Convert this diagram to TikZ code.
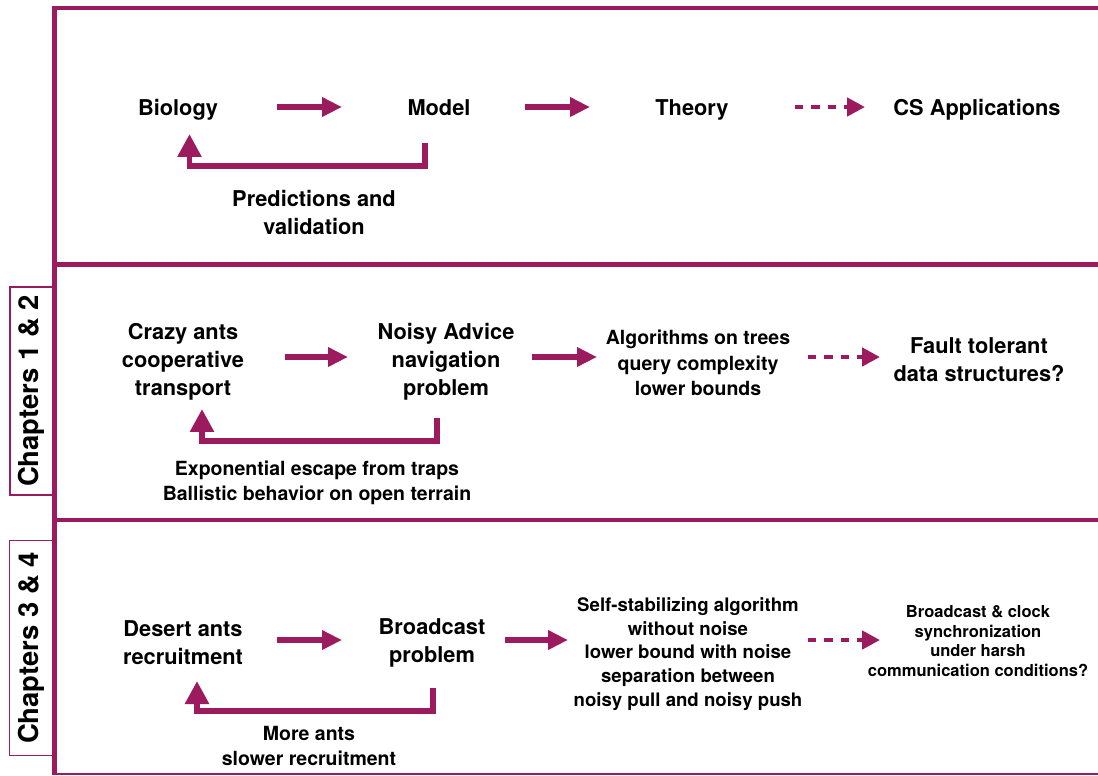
\documentclass[tikz,border=0pt]{standalone}
\usepackage{fontspec}
\setmainfont{TeX Gyre Heros}
\usetikzlibrary{arrows.meta}
\definecolor{plum}{RGB}{156,27,94}
\tikzset{
    % Frame lines
    frame/.style={
        draw=plum,
        line width=2.6pt,
    },
    % Chapter tag on the left
    chapbox/.style={
        draw=plum,
        line width=0.9pt,
        rotate=90,
        minimum width=4.16cm,
        minimum height=0.86cm,
        inner sep=0pt,
        font=\bfseries\fontsize{15.6}{18}\selectfont,
    },
    % Labels
    big/.style={
        align=center,
        font=\bfseries\fontsize{12.4}{15.9}\selectfont,
    },
    mid/.style={
        align=center,
        font=\bfseries\fontsize{11.1}{14.5}\selectfont,
    },
    small/.style={
        align=center,
        font=\bfseries\fontsize{10.6}{13.4}\selectfont,
    },
    tiny/.style={
        align=center,
        font=\bfseries\fontsize{9.4}{11.3}\selectfont,
    },
    % Arrows
    flow/.style={
        draw=plum,
        line width=3.4pt,
        -{Triangle[length=0.4cm,width=0.37cm]},
    },
    maybe/.style={
        draw=plum,
        line width=2.6pt,
        dash pattern=on 0.17cm off 0.16cm,
        -{Triangle[length=0.36cm,width=0.36cm]},
    },
    back/.style={
        draw=plum,
        line width=3.2pt,
        -{Triangle[length=0.46cm,width=0.46cm]},
    },
}

\begin{document}
\begin{tikzpicture}[x=0.02cm,y=-0.02cm]
\useasboundingbox (0,0) rectangle (1098,775);
% Frame
\draw[frame] (54.5,6) -- (54.5,775);
\draw[frame] (54.5,8) -- (1098,8);
\draw[frame] (54.5,264.5) -- (1098,264.5);
\draw[frame] (54.5,520) -- (1098,520);
\draw[draw=plum, line width=1.1pt] (54.5,774) -- (1098,774);
\node[chapbox] (ch12) at (31.5,391) {Chapters 1 \& 2};
\node[chapbox, minimum width=4.3cm] (ch34) at (31,648) {Chapters 3 \& 4};

% General scheme
\node[big] (bio) at (178,110) {Biology};
\node[big] (model) at (439,108) {Model};
\node[big] (theory) at (692,110) {Theory};
\node[big] (cs) at (977,110) {CS Applications};
\draw[flow, shorten <=1.98cm, shorten >=1.94cm] ([yshift=0.06cm]bio.center) -- ([yshift=0.06cm]bio.center -| model.center);
\draw[flow, shorten <=1.72cm, shorten >=2.04cm] ([yshift=0.06cm]bio.center -| model.center) -- ([yshift=0.06cm]theory.center);
\draw[maybe, shorten <=2.06cm, shorten >=2.24cm] ([yshift=0.06cm]theory.center) -- ([yshift=0.06cm]cs.center);
\draw[back] ([xshift=-0.28cm,yshift=-0.7cm]model.center) -- ++(0,23)
    -| ([xshift=0.23cm,yshift=-0.48cm]bio.center);
\node[big] (pred) at (314,212.5) {Predictions and\\validation};

% Chapters 1 & 2
\node[big] (crazy) at (183,362) {Crazy ants\\cooperative\\transport};
\node[big] (noisy) at (446,362) {Noisy Advice\\navigation\\problem};
\node[mid] (trees) at (698,363) {Algorithms on trees\\query complexity\\lower bounds};
\node[big] (fault) at (979,360) {Fault tolerant\\data structures?};
\draw[flow, shorten <=2.04cm, shorten >=1.96cm] ([yshift=0.1cm]crazy.center) -- ([yshift=0.1cm]noisy.center);
\draw[flow, shorten <=1.72cm, shorten >=2.02cm] ([yshift=0.1cm]noisy.center) -- ([yshift=0.1cm]noisy.center -| trees.center);
\draw[maybe, shorten <=2.2cm, shorten >=1.98cm] ([yshift=0.1cm]noisy.center -| trees.center) -- ([yshift=0.1cm]noisy.center -| fault.center);
\draw[back] ([xshift=-0.18cm,yshift=-1.12cm]noisy.center) -- ++(0,23)
    -| ([xshift=0.38cm,yshift=-0.94cm]crazy.center);
\node[mid] (traps) at (317,483) {Exponential escape from traps\\Ballistic behavior on open terrain};

% Chapters 3 & 4
\node[big] (desert) at (183,643) {Desert ants\\recruitment};
\node[big] (bcast) at (432,643) {Broadcast\\problem};
\node[small] (stab) at (688,654) {Self-stabilizing algorithm\\without noise\\lower bound with noise\\separation between\\noisy pull and noisy push};
\node[tiny] (harsh) at (978,641) {Broadcast \& clock\\synchronization\\under harsh\\communication conditions?};
\draw[flow, shorten <=1.88cm, shorten >=1.8cm] ([yshift=0.06cm]desert.center) -- ([yshift=0.06cm]bcast.center);
\draw[flow, shorten <=1.46cm, shorten >=2.4cm] ([yshift=0.06cm]bcast.center) -- ([yshift=0.06cm]bcast.center -| stab.center);
\draw[maybe, shorten <=2.4cm, shorten >=1.96cm] ([yshift=0.06cm]bcast.center -| stab.center) -- ([yshift=0.06cm]bcast.center -| harsh.center);
\draw[back] ([xshift=0.02cm,yshift=-0.9cm]bcast.center) -- ++(0,23)
    -| ([xshift=0.28cm,yshift=-0.76cm]desert.center);
\node[mid] (more) at (309,746) {More ants\\slower recruitment};
\end{tikzpicture}
\end{document}
